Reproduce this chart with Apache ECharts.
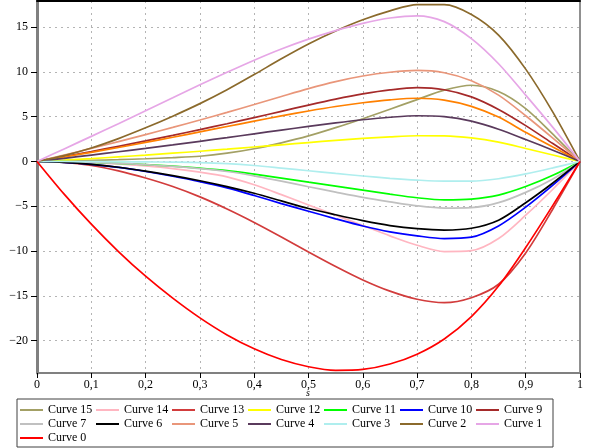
<!DOCTYPE html>
<html>
<head>
<meta charset="utf-8">
<script src="https://cdn.jsdelivr.net/npm/echarts@6/dist/echarts.min.js"></script>
<style>
  html, body { margin: 0; padding: 0; background: #fff; }
  #chart { width: 593px; height: 448px; }
</style>
</head>
<body>
<div id="chart"></div>
<script>
// s positions (step 0.05)
const sValues = [0, 0.05, 0.1, 0.15, 0.2, 0.25, 0.3, 0.35, 0.4, 0.45, 0.5,
  0.55, 0.6, 0.65, 0.7, 0.75, 0.8, 0.85, 0.9, 0.95, 1];

const curve0 = [0, -3.65, -7.0, -10.05, -12.8, -15.25, -17.45, -19.35, -20.9, -22.1, -22.9, -23.3, -23.2, -22.6, -21.5, -19.8, -17.3, -13.9, -9.6, -4.9, 0];
const curve1 = [0, 1.4, 2.8, 4.2, 5.65, 7.1, 8.55, 9.95, 11.3, 12.55, 13.65, 14.6, 15.4, 16.0, 16.25, 15.6, 13.7, 10.9, 7.4, 3.8, 0];
const curve2 = [0, 0.65, 1.5, 2.55, 3.75, 5.05, 6.45, 8.0, 9.7, 11.45, 13.1, 14.55, 15.8, 16.8, 17.5, 17.5, 16.4, 14.1, 10.3, 5.5, 0];
const curve3 = [0, -0.005, -0.015, -0.03, -0.05, -0.075, -0.12, -0.24, -0.45, -0.74, -1.04, -1.34, -1.62, -1.88, -2.08, -2.2, -2.2, -1.93, -1.39, -0.72, 0];
const curve4 = [0, 0.35, 0.71, 1.08, 1.46, 1.85, 2.25, 2.66, 3.08, 3.5, 3.91, 4.3, 4.65, 4.93, 5.1, 5.0, 4.5, 3.6, 2.45, 1.25, 0];
const curve5 = [0, 0.72, 1.46, 2.22, 3.0, 3.8, 4.62, 5.47, 6.35, 7.25, 8.13, 8.91, 9.53, 9.95, 10.15, 9.9, 9.0, 7.4, 5.1, 2.6, 0];
const curve6 = [0, -0.1, -0.32, -0.65, -1.08, -1.58, -2.15, -2.8, -3.55, -4.4, -5.25, -5.95, -6.6, -7.15, -7.5, -7.65, -7.45, -6.55, -4.6, -2.4, 0];
const curve7 = [0, -0.03, -0.1, -0.21, -0.36, -0.55, -0.8, -1.12, -1.6, -2.2, -2.82, -3.42, -4.0, -4.5, -4.95, -5.2, -5.15, -4.6, -3.45, -1.95, 0];
const curve8 = [0, 0.5, 1.02, 1.56, 2.12, 2.7, 3.3, 3.9, 4.5, 5.08, 5.63, 6.13, 6.55, 6.87, 7.05, 6.85, 6.15, 4.95, 3.25, 1.6, 0];
const curve9 = [0, 0.55, 1.11, 1.69, 2.29, 2.91, 3.55, 4.21, 4.89, 5.59, 6.29, 6.95, 7.53, 7.98, 8.23, 8.0, 7.2, 5.8, 4.0, 2.0, 0];
const curve10 = [0, -0.1, -0.33, -0.67, -1.12, -1.65, -2.25, -2.95, -3.8, -4.7, -5.55, -6.4, -7.2, -7.85, -8.3, -8.6, -8.45, -7.2, -5.1, -2.65, 0];
const curve11 = [0, -0.03, -0.1, -0.21, -0.35, -0.53, -0.75, -1.02, -1.42, -1.85, -2.3, -2.75, -3.2, -3.65, -4.05, -4.28, -4.2, -3.75, -2.8, -1.55, 0];
const curve12 = [0, 0.15, 0.32, 0.51, 0.71, 0.92, 1.14, 1.37, 1.61, 1.86, 2.11, 2.35, 2.57, 2.75, 2.87, 2.85, 2.62, 2.15, 1.45, 0.72, 0];
const curve13 = [0, -0.1, -0.45, -1.05, -1.85, -2.8, -3.95, -5.3, -6.8, -8.42, -10.1, -11.72, -13.22, -14.47, -15.37, -15.75, -15.2, -13.7, -10.2, -5.3, 0];
const curve14 = [0, -0.03, -0.12, -0.27, -0.5, -0.8, -1.2, -1.72, -2.6, -3.7, -4.85, -6.0, -7.15, -8.3, -9.35, -10.05, -9.95, -8.6, -6.0, -3.1, 0];
const curve15 = [0, 0.05, 0.12, 0.2, 0.3, 0.42, 0.58, 0.92, 1.42, 2.08, 2.85, 3.77, 4.77, 5.83, 6.9, 7.95, 8.5, 7.8, 5.9, 3.05, 0];

const legendNames = ['Curve 15', 'Curve 14', 'Curve 13', 'Curve 12', 'Curve 11', 'Curve 10', 'Curve 9',
  'Curve 7', 'Curve 6', 'Curve 5', 'Curve 4', 'Curve 3', 'Curve 2', 'Curve 1', 'Curve 0'];

// drawing order: 15 first, 0 last (on top); Curve 8 has no legend entry
const curves = [
  ['Curve 15', curve15, '#a3a065'],
  ['Curve 14', curve14, '#ffb6c1'],
  ['Curve 13', curve13, '#d23c3c'],
  ['Curve 12', curve12, '#ffff00'],
  ['Curve 11', curve11, '#00ff00'],
  ['Curve 10', curve10, '#0000ff'],
  ['Curve 9', curve9, '#a52a2a'],
  ['Curve 8', curve8, '#ff8000'],
  ['Curve 7', curve7, '#c0c0c0'],
  ['Curve 6', curve6, '#000000'],
  ['Curve 5', curve5, '#e9967a'],
  ['Curve 4', curve4, '#5a3a5c'],
  ['Curve 3', curve3, '#afeeee'],
  ['Curve 2', curve2, '#8b6a2c'],
  ['Curve 1', curve1, '#e6a6e6'],
  ['Curve 0', curve0, '#ff0000']
];

const serif = "'Liberation Serif', 'Times New Roman', serif";
const minus = v => String(v).replace('-', '\u2212');
const comma = v => (v === 0 ? '0' : v === 1 ? '1' : v.toFixed(1).replace('.', ','));

const chart = echarts.init(document.getElementById('chart'), null, { renderer: 'canvas' });

const option = {
  backgroundColor: '#fff',
  animation: false,
  grid: { left: 37, right: 13, top: 1, bottom: 75, containLabel: false },
  // axis title "s", centred under the plot, just above the legend box
  title: {
    text: 's',
    left: 306,
    top: 388,
    padding: 0,
    textStyle: { fontFamily: serif, fontStyle: 'italic', fontWeight: 'normal', fontSize: 10, color: '#000' }
  },
  legend: {
    data: legendNames,
    left: 17,
    top: 399,
    width: 540,
    padding: [5, 3, 3, 3],
    borderColor: '#404040',
    borderWidth: 1,
    itemGap: 2,
    itemWidth: 23,
    itemHeight: 2,
    icon: 'rect',
    textStyle: { fontFamily: serif, fontSize: 12, color: '#000', width: 46, lineHeight: 12 }
  },
  xAxis: [{
    type: 'value',
    min: 0,
    max: 1,
    interval: 0.1,
    axisLine: { show: true, onZero: false, lineStyle: { color: '#808080', width: 2 } },
    axisTick: { show: true, length: 5, lineStyle: { color: '#000' } },
    axisLabel: { fontFamily: serif, fontSize: 12, color: '#000', margin: 6, formatter: comma },
    splitLine: { show: true, lineStyle: { color: '#b4b4b4', type: [2, 4], width: 1 } }
  }, {
    type: 'value',
    position: 'top',
    min: 0,
    max: 1,
    axisLine: { show: true, onZero: false, lineStyle: { color: '#000', width: 2 } },
    axisTick: { show: false },
    axisLabel: { show: false },
    splitLine: { show: false }
  }],
  yAxis: [{
    type: 'value',
    min: -23.6,
    max: 17.9,
    minInterval: 5,
    maxInterval: 5,
    axisLine: { show: true, onZero: false, lineStyle: { color: '#808080', width: 3 } },
    axisTick: { show: true, length: 6, lineStyle: { color: '#000' } },
    axisLabel: {
      fontFamily: serif, fontSize: 12, color: '#000', margin: 9,
      showMinLabel: false, showMaxLabel: false,
      formatter: minus
    },
    splitLine: { show: true, lineStyle: { color: '#b4b4b4', type: [2, 4], width: 1 } }
  }, {
    type: 'value',
    position: 'right',
    min: -23.6,
    max: 17.9,
    axisLine: { show: true, onZero: false, lineStyle: { color: '#909090', width: 2 } },
    axisTick: { show: false },
    axisLabel: { show: false },
    splitLine: { show: false }
  }],
  series: curves.map(([name, values, color]) => ({
    name: name,
    type: 'line',
    smooth: 0.3,
    symbol: 'none',
    xAxisIndex: 0,
    yAxisIndex: 0,
    color: color,
    lineStyle: { color: color, width: 1.7 },
    data: sValues.map((s, i) => [s, values[i]])
  }))
};

chart.setOption(option);
</script>
</body>
</html>
